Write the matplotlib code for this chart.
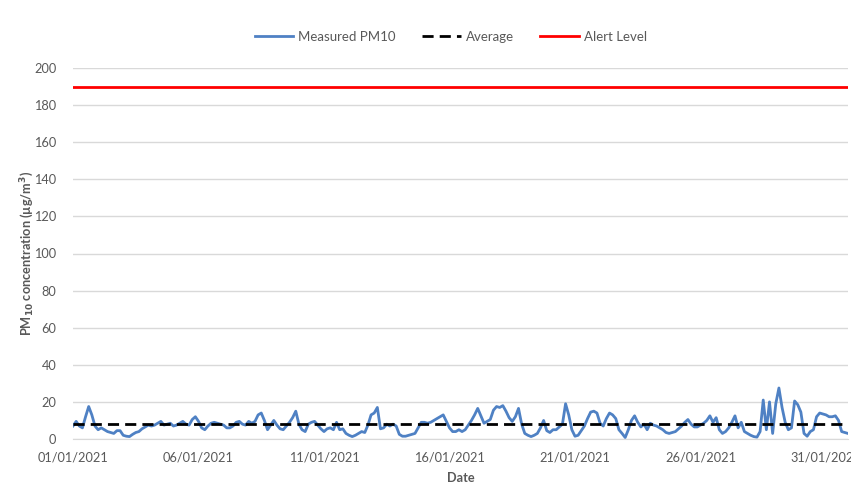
import matplotlib

matplotlib.use("Agg")
import matplotlib.dates as mdates
import matplotlib.pyplot as plt
import pandas as pd

# 3-hourly readings, 8 per day, 01/01/2021 00:00 -> 31/01/2021 21:00
pm10_by_day = [
    [7, 9.5, 7, 6, 12, 17.5, 13, 7],
    [5, 6, 5, 4, 3.5, 3, 4.5, 4.5],
    [2, 1.5, 1.3, 2.5, 3.5, 4, 5.5, 6.5],
    [7.5, 7, 7.5, 8.5, 9.5, 7.5, 8, 8.5],
    [7, 7.5, 8.5, 9.5, 8, 7.5, 10.5, 12],
    [9.5, 6, 5, 7, 8.5, 9, 8.5, 8],
    [7.5, 6, 6, 7, 9, 9.5, 8, 7.5],
    [9.5, 8.5, 9.5, 13, 14, 10, 5, 7.5],
    [10, 7.5, 5.5, 5, 7, 9, 11.5, 15],
    [8, 5, 4, 8, 9, 9.5, 7.5, 5.5],
    [4, 5.5, 6, 5, 9, 5, 5.5, 3],
    [2, 1.3, 2, 3, 4, 3.5, 7.5, 13],
    [14, 17, 5.5, 6, 8, 7, 8, 7],
    [2.5, 1.5, 1.5, 2, 2.5, 3, 6, 9],
    [9, 8.5, 9, 10, 11, 12, 13, 9.5],
    [6, 4, 4, 5, 4, 5, 7.5, 10],
    [13, 16.5, 12.5, 8.5, 9.5, 10.5, 15.5, 17.5],
    [17, 18, 15, 11.5, 9.5, 12, 16.5, 8],
    [3, 2, 1.3, 2, 3, 6, 10, 4.5],
    [3.5, 5, 5, 6.5, 8, 19, 13, 5],
    [1.5, 2, 4.5, 7, 11, 14.5, 15, 14],
    [8.5, 7, 11, 14, 13, 11, 5, 3],
    [0.8, 5, 10, 12.5, 9, 6.5, 8, 5],
    [8.5, 7.5, 7, 6, 5, 3.5, 3, 3.5],
    [4, 5.5, 7, 9, 10.5, 8, 6.5, 6.5],
    [7.5, 8.5, 10, 12.5, 9, 11.5, 5, 3],
    [4, 6, 9, 12.5, 6, 9, 4, 3],
    [2, 1.3, 1, 4, 21, 5, 20, 3],
    [19, 27.5, 17, 9, 5, 6, 20.5, 18.5],
    [14.5, 3, 1.5, 4, 5, 12, 14, 13.5],
    [13, 12, 12, 12.5, 10, 4, 3.5, 3],
]
pm10 = [v for day in pm10_by_day for v in day]
average_level = 7.9
alert_level = 190

times = pd.date_range("2021-01-01 00:00", periods=len(pm10), freq="3h")

GREY = "#595959"
plt.rcParams["font.family"] = ["Lato", "DejaVu Sans"]

fig = plt.figure(figsize=(8.51, 5.0), dpi=100)
ax = fig.add_axes((0.0858, 0.122, 0.9106, 0.742))

ax.plot(times, pm10, color="#4f81c4", linewidth=2.0, label="Measured PM10")
ax.plot(
    [times[0], times[-1]],
    [average_level, average_level],
    color="black",
    linewidth=2.0,
    linestyle=(0, (4, 2.2)),
    label="Average",
)
ax.plot(
    [times[0], times[-1]],
    [alert_level, alert_level],
    color="#ff0000",
    linewidth=2.0,
    label="Alert Level",
)

ax.set_xlim(times[0], times[-1])
ax.set_ylim(0, 200)
ax.set_yticks(range(0, 201, 20))
ax.xaxis.set_major_locator(mdates.DayLocator(bymonthday=[1, 6, 11, 16, 21, 26, 31]))
ax.xaxis.set_major_formatter(mdates.DateFormatter("%d/%m/%Y"))

ax.grid(axis="y", color="#d9d9d9", linewidth=1.0)
ax.set_axisbelow(True)
for side in ("top", "right", "left"):
    ax.spines[side].set_visible(False)
ax.spines["bottom"].set_color("#d9d9d9")
ax.tick_params(axis="both", length=0, labelsize=9.2, colors=GREY)
ax.tick_params(axis="y", pad=12)
ax.tick_params(axis="x", pad=9)

ax.set_xlabel("Date", fontsize=9.2, fontweight="bold", color=GREY, labelpad=6)
ax.set_ylabel(
    "PM$_{\\mathbf{10}}$ concentration (µg/m$^{\\mathbf{3}}$)",
    fontsize=9.2,
    fontweight="bold",
    color=GREY,
)
ax.yaxis.set_label_coords(-0.048, 0.5)

fig.legend(
    loc="center",
    bbox_to_anchor=(0.53, 0.926),
    ncol=3,
    frameon=False,
    fontsize=9.5,
    labelcolor=GREY,
    handlelength=2.9,
    handletextpad=0.4,
    columnspacing=2.0,
)

fig.savefig("out.png", dpi=100)
